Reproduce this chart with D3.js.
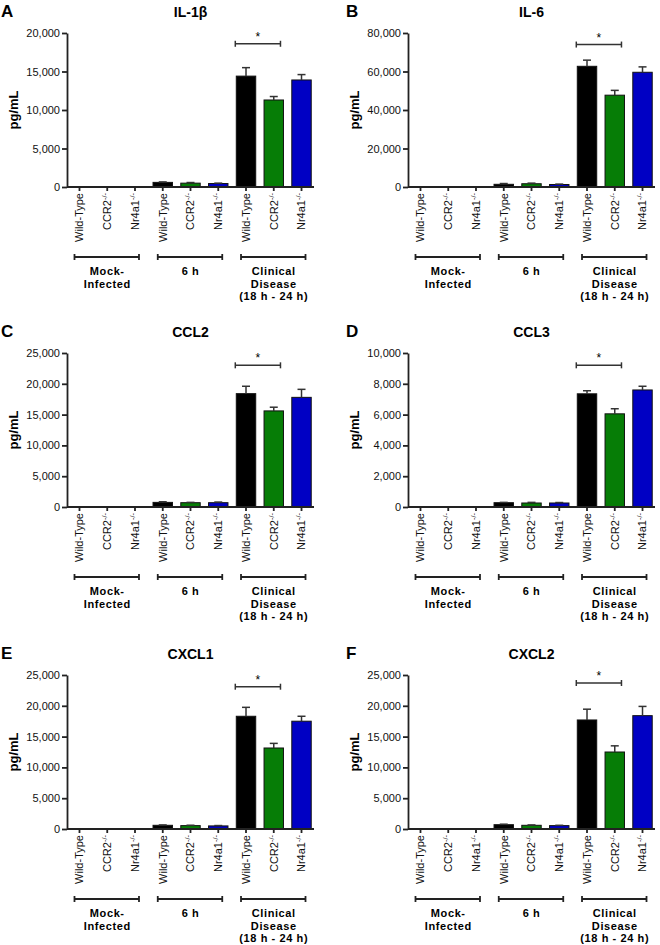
<!DOCTYPE html>
<html lang="en">
<head>
    <meta charset="UTF-8">
    <title>Cytokine panels</title>
    <script src="https://cdn.jsdelivr.net/npm/d3@7"></script>
    <style>
        body { margin: 0; background: #fff; }
        svg { display: block; font-family: "Liberation Sans", Arial, sans-serif; }
        .axis path, .axis line { stroke: #222; stroke-width: 1.8px; }
        .axis text { font-size: 11px; fill: #111; }
    </style>
</head>
<body>
<script>

    /******* DATA *******/
    const panelLetters = ["A", "B", "C", "D", "E", "F"];
    const cytokines = ["IL-1\u03b2", "IL-6", "CCL2", "CCL3", "CXCL1", "CXCL2"];
    const genotypes = ["Wild-Type", "CCR2", "Nr4a1"];
    const genotypeSup = ["", "-/-", "-/-"];
    const groupLines = [["Mock-", "Infected"], ["6 h"], ["Clinical", "Disease", "(18 h - 24 h)"]];
    const barColors = ["#000000", "#067d06", "#0000c4"];

    const yMax = [20000, 80000, 25000, 10000, 25000, 25000];
    const yStep = [5000, 20000, 5000, 2000, 5000, 5000];
    // y value (pg/mL) where the significance bar sits
    const sigLevel = [18600, 74000, 23000, 9200, 23100, 23700];

    // means, order: Mock WT/CCR2/Nr4a1, 6 h WT/CCR2/Nr4a1, Clinical WT/CCR2/Nr4a1
    const il1b  = [0, 0, 0, 600, 500, 450, 14400, 11300, 13900];
    const il6   = [0, 0, 0, 1400, 1700, 1300, 62700, 47700, 59600];
    const ccl2  = [0, 0, 0, 750, 700, 700, 18400, 15600, 17800];
    const ccl3  = [0, 0, 0, 280, 260, 260, 7350, 6050, 7600];
    const cxcl1 = [0, 0, 0, 600, 550, 500, 18300, 13150, 17500];
    const cxcl2 = [0, 0, 0, 700, 600, 550, 17700, 12500, 18400];

    // upper error bars
    const il1bErr  = [0, 0, 0, 60, 80, 50, 1100, 450, 700];
    const il6Err   = [0, 0, 0, 400, 300, 200, 3200, 2500, 2800];
    const ccl2Err  = [0, 0, 0, 100, 50, 100, 1200, 600, 1300];
    const ccl3Err  = [0, 0, 0, 20, 40, 30, 200, 330, 240];
    const cxcl1Err = [0, 0, 0, 60, 60, 60, 1450, 750, 800];
    const cxcl2Err = [0, 0, 0, 80, 60, 50, 1750, 1000, 1500];

    const means = [il1b, il6, ccl2, ccl3, cxcl1, cxcl2];
    const errs = [il1bErr, il6Err, ccl2Err, ccl3Err, cxcl1Err, cxcl2Err];


    /******* LAYOUT *******/
    const width = 660, height = 945;
    const svg = d3.select("body").append("svg")
        .attr("width", width)
        .attr("height", height);

    const colX = [0, 341];
    const rowY = [0, 320, 642];
    const plot = { left: 67, right: 314, top: 33, bottom: 187 };


    /******* PANELS *******/
    cytokines.forEach((name, i) => {
        const ox = colX[i % 2];
        const oy = rowY[Math.floor(i / 2)];
        const g = svg.append("g").attr("transform", `translate(${ox},${oy})`);

        const bars = means[i].map((v, j) => ({
            idx: j,
            value: v,
            err: errs[i][j],
            color: barColors[j % 3]
        }));

        const x = d3.scaleBand()
            .domain(d3.range(9))
            .range([plot.left, plot.right])
            .paddingInner(0.3)
            .paddingOuter(0.1);
        const y = d3.scaleLinear()
            .domain([0, yMax[i]])
            .range([plot.bottom, plot.top]);

        // Panel letter + title
        g.append("text")
            .attr("x", i % 2 ? 5 : 1)
            .attr("y", 17)
            .style("font-size", "17px")
            .style("font-weight", "bold")
            .text(panelLetters[i]);
        g.append("text")
            .attr("x", (plot.left + plot.right) / 2)
            .attr("y", 17)
            .attr("text-anchor", "middle")
            .style("font-size", "14px")
            .style("font-weight", "bold")
            .text(name);

        // Y axis
        g.append("g")
            .attr("class", "axis")
            .attr("transform", `translate(${plot.left},0)`)
            .call(d3.axisLeft(y)
                .tickValues(d3.range(0, yMax[i] + 1, yStep[i]))
                .tickFormat(d3.format(","))
                .tickSize(5)
                .tickSizeOuter(0)
                .tickPadding(2));

        // Y title
        g.append("text")
            .attr("transform", `translate(${plot.left - 54},${(plot.top + plot.bottom) / 2}) rotate(-90)`)
            .attr("text-anchor", "middle")
            .attr("dy", "0.35em")
            .style("font-size", "13px")
            .style("font-weight", "bold")
            .text("pg/mL");

        // Bars
        g.selectAll(".bar")
            .data(bars.filter(d => d.value > 0))
            .enter()
            .append("rect")
            .attr("class", "bar")
            .attr("x", d => x(d.idx))
            .attr("y", d => y(d.value))
            .attr("width", x.bandwidth())
            .attr("height", d => y(0) - y(d.value))
            .attr("fill", d => d.color)
            .attr("stroke", "#111")
            .attr("stroke-width", 1);

        // Error bars (upper only)
        const eb = g.selectAll(".err")
            .data(bars.filter(d => d.err > 0))
            .enter()
            .append("g")
            .attr("class", "err")
            .attr("stroke", "#333")
            .attr("stroke-width", 1.5);
        eb.append("line")
            .attr("x1", d => x(d.idx) + x.bandwidth() / 2)
            .attr("x2", d => x(d.idx) + x.bandwidth() / 2)
            .attr("y1", d => y(d.value))
            .attr("y2", d => y(d.value + d.err));
        eb.append("line")
            .attr("x1", d => x(d.idx) + x.bandwidth() / 2 - 4)
            .attr("x2", d => x(d.idx) + x.bandwidth() / 2 + 4)
            .attr("y1", d => y(d.value + d.err))
            .attr("y2", d => y(d.value + d.err));

        // X axis
        const xAxisG = g.append("g")
            .attr("class", "axis")
            .attr("transform", `translate(0,${plot.bottom})`)
            .call(d3.axisBottom(x).tickSize(4).tickSizeOuter(0));
        xAxisG.select(".domain").attr("d", `M${plot.left},0H${plot.right}`);
        xAxisG.selectAll(".tick text")
            .text(null)
            .attr("transform", "rotate(-90)")
            .attr("text-anchor", "end")
            .attr("x", -6)
            .attr("y", 0)
            .attr("dy", "0.35em")
            .each(function (d) {
                const t = d3.select(this);
                t.append("tspan").text(genotypes[d % 3]);
                if (genotypeSup[d % 3]) {
                    t.append("tspan")
                        .attr("baseline-shift", "super")
                        .style("font-size", "7.5px")
                        .text(genotypeSup[d % 3]);
                }
            });

        // Significance bracket: Clinical WT vs CCR2
        const sy = y(sigLevel[i]);
        const sx0 = x(6) - 1;
        const sx1 = x(7) + x.bandwidth() - 3;
        const sig = g.append("g").attr("stroke", "#333").attr("stroke-width", 1.5);
        sig.append("line").attr("x1", sx0).attr("x2", sx1).attr("y1", sy).attr("y2", sy);
        sig.append("line").attr("x1", sx0).attr("x2", sx0).attr("y1", sy - 3).attr("y2", sy + 3);
        sig.append("line").attr("x1", sx1).attr("x2", sx1).attr("y1", sy - 3).attr("y2", sy + 3);
        g.append("text")
            .attr("x", (sx0 + sx1) / 2)
            .attr("y", sy - 3)
            .attr("text-anchor", "middle")
            .style("font-size", "12px")
            .text("*");

        // Group brackets + labels
        groupLines.forEach((lines, k) => {
            const c0 = x(k * 3) + x.bandwidth() / 2 - 5;
            const c1 = x(k * 3 + 2) + x.bandwidth() / 2 + 4;
            const cx = x(k * 3 + 1) + x.bandwidth() / 2;
            const gy = plot.bottom + 70;
            const br = g.append("g").attr("stroke", "#222").attr("stroke-width", 1.8);
            br.append("line").attr("x1", c0).attr("x2", c1).attr("y1", gy).attr("y2", gy);
            br.append("line").attr("x1", c0).attr("x2", c0).attr("y1", gy - 3).attr("y2", gy + 3);
            br.append("line").attr("x1", c1).attr("x2", c1).attr("y1", gy - 3).attr("y2", gy + 3);
            lines.forEach((line, n) => {
                g.append("text")
                    .attr("x", cx)
                    .attr("y", gy + 18 + n * 12.7)
                    .attr("text-anchor", "middle")
                    .style("font-size", "11px")
                    .style("font-weight", "bold")
                    .style("letter-spacing", "0.6px")
                    .text(line);
            });
        });
    });

</script>
</body>
</html>
